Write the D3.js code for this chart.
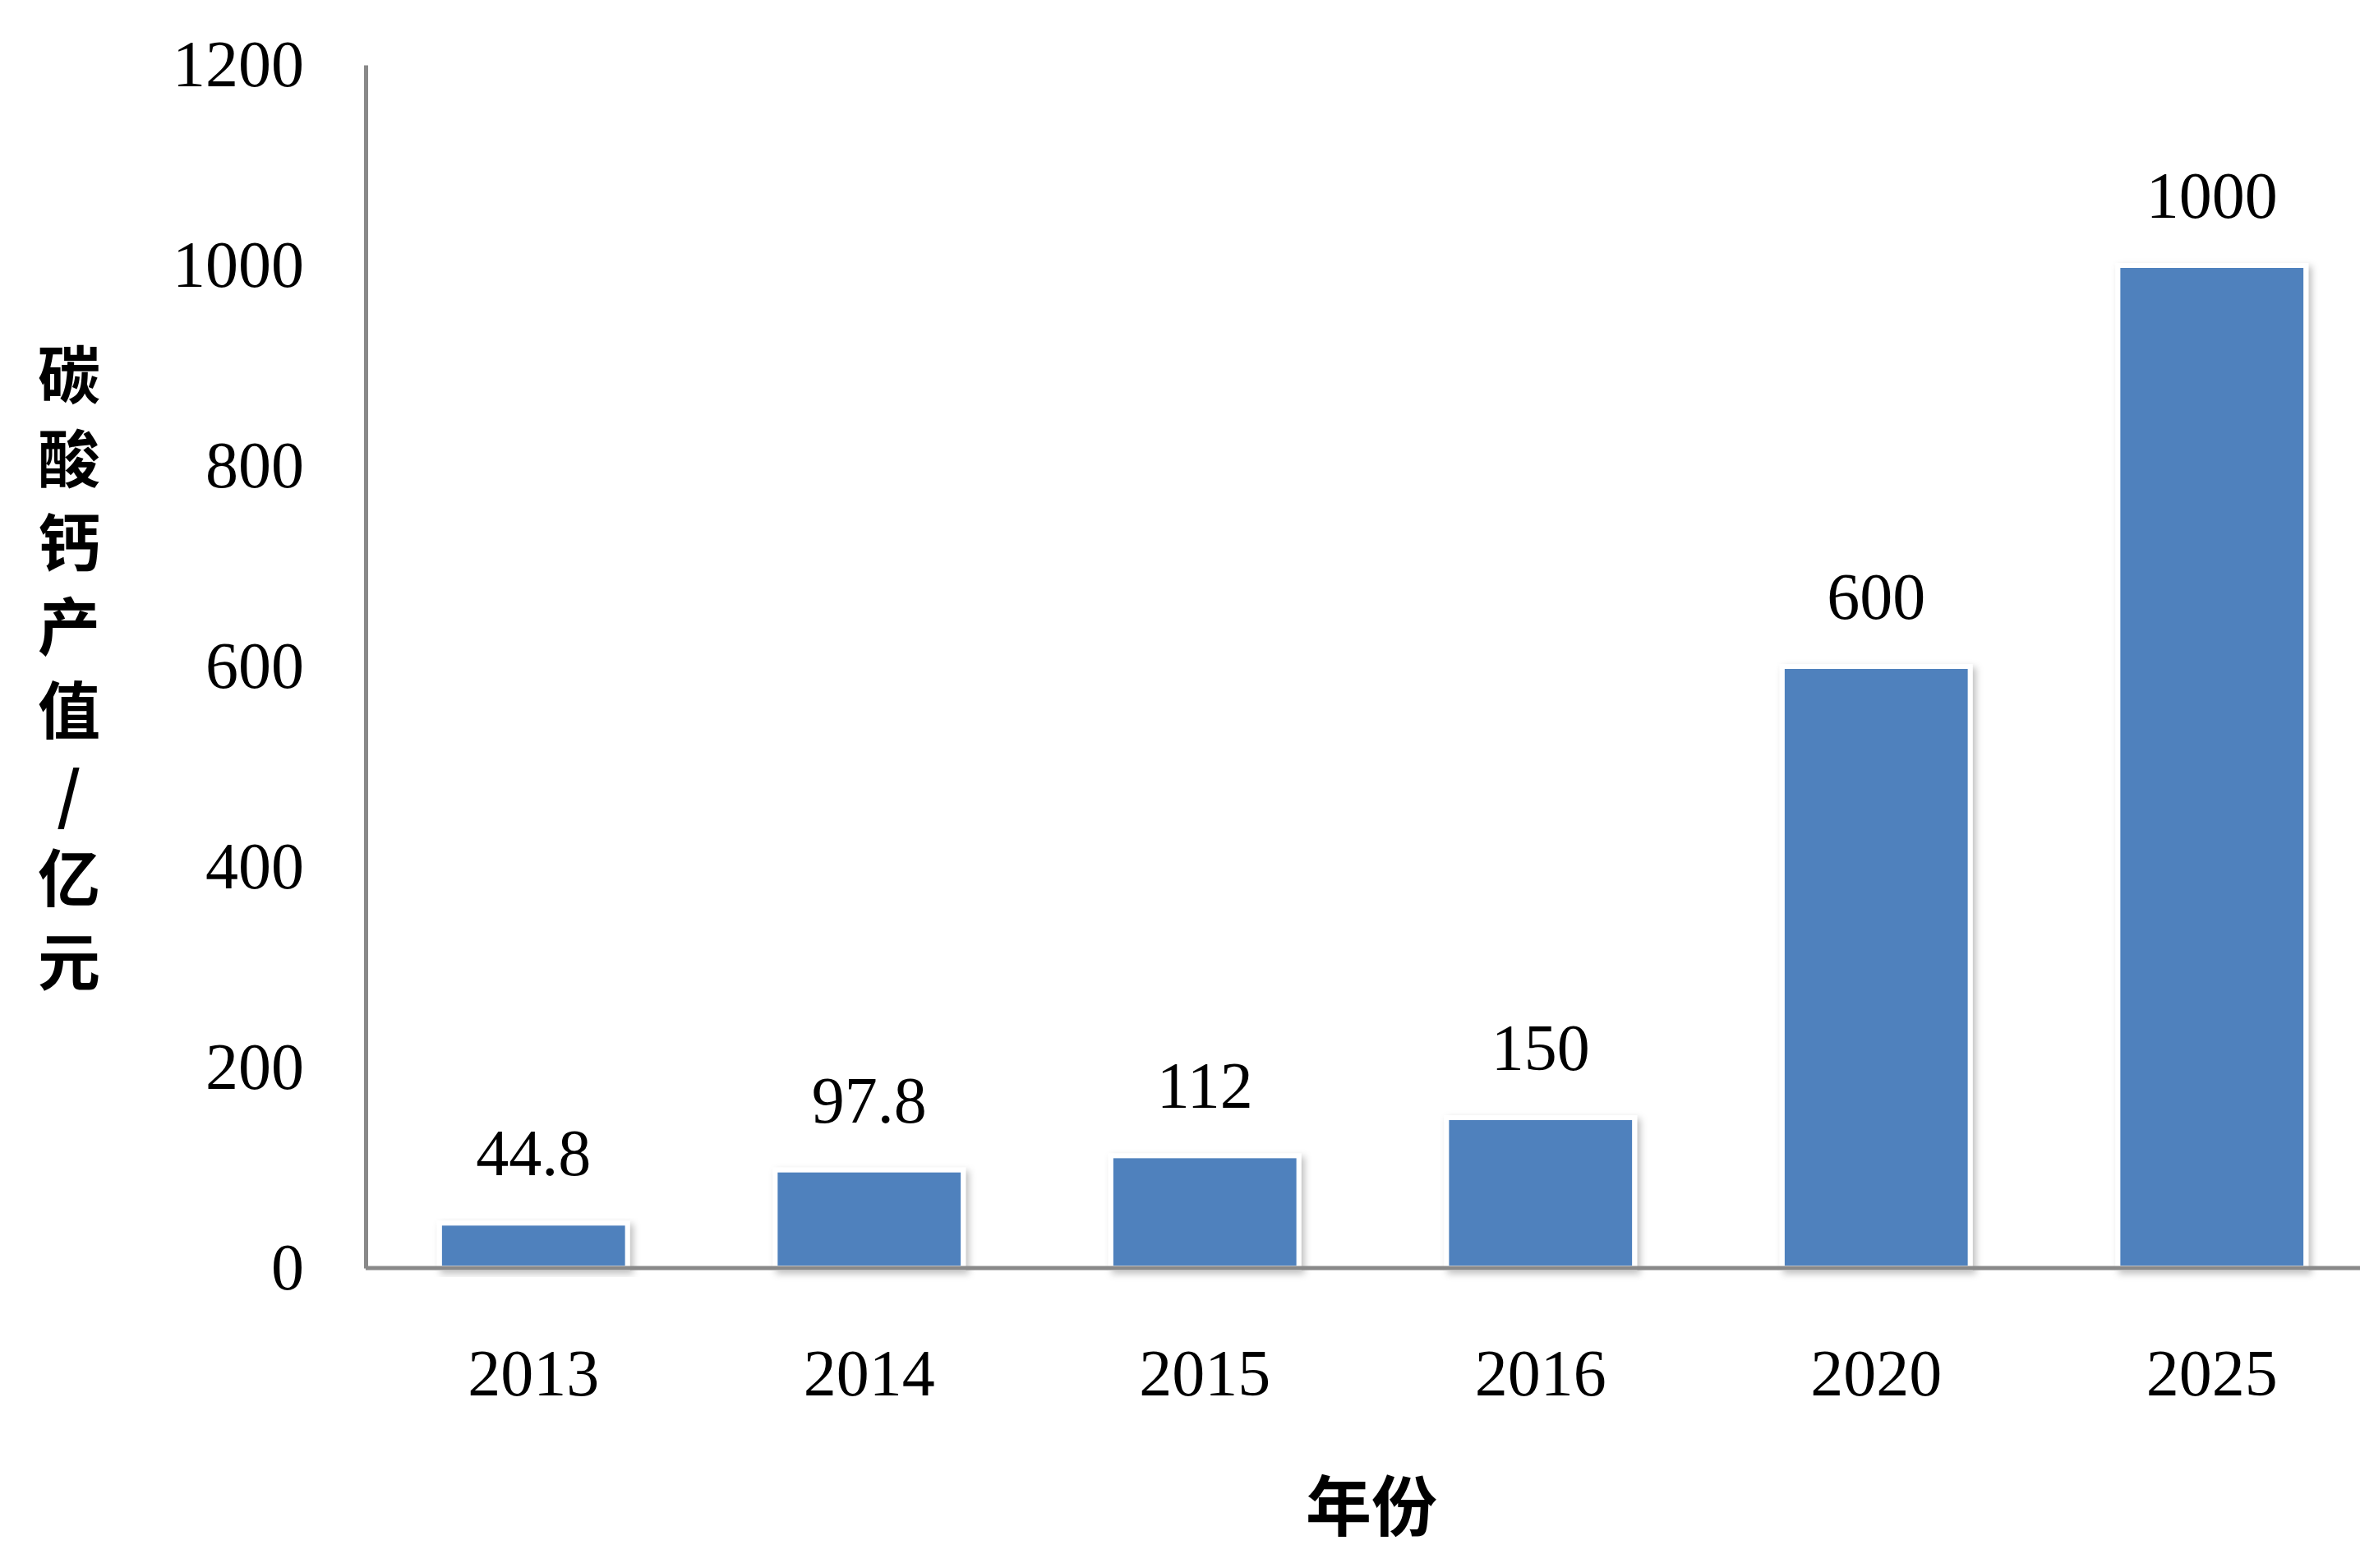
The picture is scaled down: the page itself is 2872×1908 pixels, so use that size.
<!DOCTYPE html>
<html><head><meta charset="utf-8">
<script src="https://cdn.jsdelivr.net/npm/d3@7"></script>
<style>body{margin:0;background:#fff}</style>
</head><body>
<svg id="c" width="2872" height="1908"></svg>
<script>
const years = ["2013","2014","2015","2016","2020","2025"];
const values = [44.8, 97.8, 112, 150, 600, 1000];
const labels = ["44.8","97.8","112","150","600","1000"];
const yTicks = [0,200,400,600,800,1000,1200];
const yTitle = ["碳","酸","钙","产","值","/","亿","元"];
const xTitle = "年份";

const svg = d3.select("#c");
const font = "'Liberation Serif','Times New Roman',serif";
const x = d3.scaleBand().domain(years).range([445, 2896]).paddingInner(0.44).paddingOuter(0.22);
const y = d3.scaleLinear().domain([0,1200]).range([1543, 79]);

const defs = svg.append("defs");
const f = defs.append("filter").attr("id","sh").attr("x","-10%").attr("y","-10%").attr("width","130%").attr("height","130%");
f.append("feDropShadow").attr("dx",4).attr("dy",4).attr("stdDeviation",4).attr("flood-color","#000").attr("flood-opacity",0.25);

svg.selectAll("rect.bar").data(values).join("rect")
  .attr("x",(d,i)=>x(years[i])).attr("width",x.bandwidth())
  .attr("y",d=>y(d)).attr("height",d=>y(0)-y(d))
  .attr("fill","#4F81BD").attr("stroke","#fff").attr("stroke-width",6)
  .attr("filter","url(#sh)");

svg.selectAll("text.lab").data(values).join("text")
  .attr("x",(d,i)=>x(years[i])+x.bandwidth()/2).attr("y",d=>y(d)-58)
  .attr("text-anchor","middle").attr("font-family",font).attr("font-size",80)
  .text((d,i)=>labels[i]);

const ya = svg.append("g").attr("transform","translate(445,0)")
  .call(d3.axisLeft(y).tickValues(yTicks).tickFormat(d3.format("d")).tickSize(0).tickPadding(75));
ya.select(".domain").attr("stroke","#898989").attr("stroke-width",5);
ya.selectAll("text").attr("font-family",font).attr("font-size",80).attr("fill","#000");

const xa = svg.append("g").attr("transform","translate(0,1543)")
  .call(d3.axisBottom(x).tickSize(0).tickPadding(98));
xa.select(".domain").attr("stroke","#898989").attr("stroke-width",5).attr("d","M445,0H2872");
xa.selectAll("text").attr("font-family",font).attr("font-size",80).attr("fill","#000");

svg.append("text").attr("x",1669).attr("y",1862).attr("text-anchor","middle")
  .attr("font-family","'Noto Sans CJK SC'").attr("font-weight","bold").attr("font-size",80).text(xTitle);

svg.selectAll("text.yt").data(yTitle).join("text")
  .attr("x",84).attr("y",(d,i)=>485+i*102).attr("text-anchor","middle")
  .attr("font-family","'Noto Sans CJK SC'").attr("font-weight","bold").attr("font-size",76).text(d=>d);
</script>
</body></html>
